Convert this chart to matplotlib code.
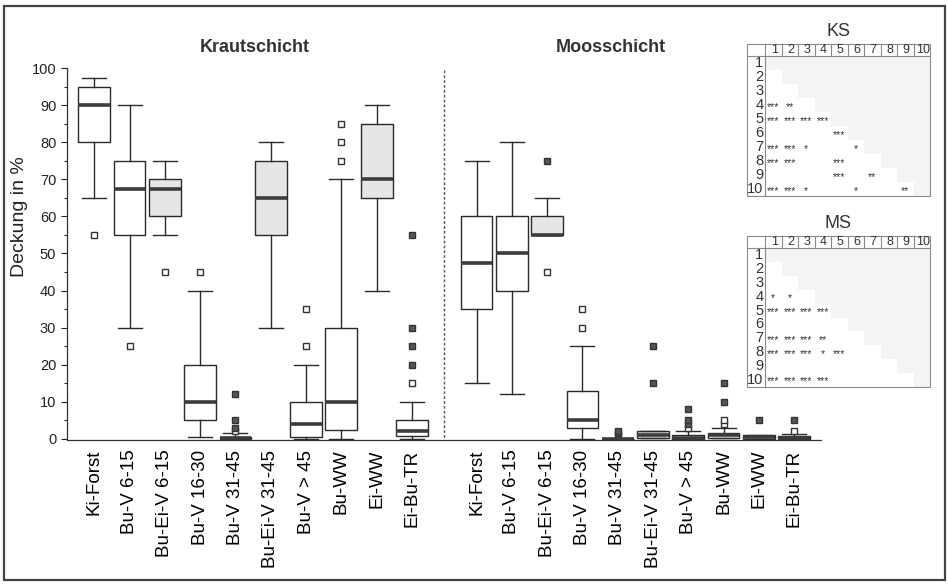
import matplotlib
matplotlib.use('Agg')
import matplotlib.pyplot as plt
from matplotlib.patches import Rectangle

plt.rcParams['font.family'] = ['Liberation Sans', 'DejaVu Sans']

groups = ['Ki-Forst', 'Bu-V 6-15', 'Bu-Ei-V 6-15', 'Bu-V 16-30', 'Bu-V 31-45',
          'Bu-Ei-V 31-45', 'Bu-V > 45', 'Bu-WW', 'Ei-WW', 'Ei-Bu-TR']
grey_box = [False, False, True, False, False, True, False, False, True, False]

# Krautschicht
ks_whislo = [65, 30, 55, 0.5, 0, 30, 0, 0, 40, 0]
ks_q1 = [80, 55, 60, 5, 0, 55, 0.5, 2.3, 65, 0.7]
ks_med = [90, 67.5, 67.5, 10, 0.1, 65, 4, 10, 70, 2]
ks_q3 = [95, 75, 70, 20, 0.5, 75, 10, 30, 85, 5]
ks_whishi = [97.5, 90, 75, 40, 1.5, 80, 20, 70, 90, 10]
ks_open = [[55], [25], [45], [45], [2], [], [25, 35], [75, 80, 85], [], [15]]
ks_filled = [[], [], [], [], [3, 5, 12], [], [], [], [], [20, 25, 30, 55]]

# Moosschicht
ms_whislo = [15, 12, 55, 0, 0, 0.3, 0, 0.3, 0, 0]
ms_q1 = [35, 40, 55, 3, 0, 0.3, 0, 0.3, 0, 0]
ms_med = [47.5, 50, 55, 5, 0, 1, 0.3, 1, 0.5, 0.3]
ms_q3 = [60, 60, 60, 13, 0, 2, 1, 1.5, 1, 0.8]
ms_whishi = [75, 80, 65, 25, 0, 2, 2, 2.8, 1, 1.2]
ms_open = [[], [], [45], [30, 35], [], [], [3], [4, 5], [], [2]]
ms_filled = [[], [], [75], [], [1, 1.5, 2], [15, 25], [4, 5, 8], [10, 15], [5], [5]]

ks_pos = [1, 2, 3, 4, 5, 6, 7, 8, 9, 10]
ms_pos = [11.83, 12.83, 13.83, 14.83, 15.83, 16.83, 17.83, 18.83, 19.83, 20.83]

# significance tables (row, col, stars)
ks_sig = [(4, 1, '***'), (4, 2, '**'),
          (5, 1, '***'), (5, 2, '***'), (5, 3, '***'), (5, 4, '***'),
          (6, 5, '***'),
          (7, 1, '***'), (7, 2, '***'), (7, 3, '*'), (7, 6, '*'),
          (8, 1, '***'), (8, 2, '***'), (8, 5, '***'),
          (9, 5, '***'), (9, 7, '**'),
          (10, 1, '***'), (10, 2, '***'), (10, 3, '*'), (10, 6, '*'), (10, 9, '**')]
ms_sig = [(4, 1, '*'), (4, 2, '*'),
          (5, 1, '***'), (5, 2, '***'), (5, 3, '***'), (5, 4, '***'),
          (7, 1, '***'), (7, 2, '***'), (7, 3, '***'), (7, 4, '**'),
          (8, 1, '***'), (8, 2, '***'), (8, 3, '***'), (8, 4, '*'), (8, 5, '***'),
          (10, 1, '***'), (10, 2, '***'), (10, 3, '***'), (10, 4, '***')]

W, H = 948, 586
fig = plt.figure(figsize=[9.48, 5.86], dpi=100)
ax = fig.add_axes([66.7 / W, 1 - 439.8 / H, 754.3 / W, 371.5 / H])


def stats(wl, q1, md, q3, wh):
    out = []
    for i in range(len(md)):
        out.append({'whislo': wl[i], 'q1': q1[i], 'med': md[i], 'q3': q3[i],
                    'whishi': wh[i], 'fliers': []})
    return out


def draw_layer(st, pos, opn, fil):
    bp = ax.bxp(st, positions=pos, widths=0.9, patch_artist=True, showfliers=False,
                capwidths=0.68,
                boxprops=dict(edgecolor='#2a2a2a', linewidth=1.0),
                medianprops=dict(color='#3c3c3c', linewidth=2.6),
                whiskerprops=dict(color='#2a2a2a', linewidth=1.0),
                capprops=dict(color='#2a2a2a', linewidth=1.0))
    for b, g in zip(bp['boxes'], grey_box):
        b.set_facecolor('#e6e6e6' if g else 'white')
    for p, o, f in zip(pos, opn, fil):
        if o:
            ax.plot([p] * len(o), o, 's', ms=4, mfc='white', mec='#333333', mew=1.0)
        if f:
            ax.plot([p] * len(f), f, 's', ms=4, mfc='#555555', mec='#333333', mew=1.0)


draw_layer(stats(ks_whislo, ks_q1, ks_med, ks_q3, ks_whishi), ks_pos, ks_open, ks_filled)
draw_layer(stats(ms_whislo, ms_q1, ms_med, ms_q3, ms_whishi), ms_pos, ms_open, ms_filled)

ax.plot([10.9, 10.9], [99.5, -0.3], color='#555555', lw=1.0, ls=(0, (2, 1.5)))

ax.set_xlim(0.218, 21.59)
ax.set_ylim(-0.3, 100)
ax.set_xticks(ks_pos + ms_pos)
ax.set_xticklabels(groups + groups, rotation=90, fontsize=13.5)
ax.tick_params(axis='x', length=0, pad=7)
ax.set_yticks(range(0, 101, 10))
ax.set_yticks(range(5, 100, 10), minor=True)
ax.tick_params(axis='y', which='major', labelsize=10.5, length=4, width=0.8, direction='out', colors='#222222')
ax.tick_params(axis='y', which='minor', length=2.5, width=0.8, direction='out', colors='#222222')
ax.spines['top'].set_visible(False)
ax.spines['right'].set_visible(False)
ax.spines['left'].set_bounds(0, 100)
for s in ['left', 'bottom']:
    ax.spines[s].set_color('#333333')
    ax.spines[s].set_linewidth(0.9)
ax.set_ylabel('Deckung in %', fontsize=14, color='#222222')
ax.yaxis.set_label_coords(-0.051, 0.60)

fig.text(255 / W, 1 - 48 / H, 'Krautschicht', fontsize=13, fontweight='bold',
         ha='center', va='center', color='#333333')
fig.text(611 / W, 1 - 48 / H, 'Moosschicht', fontsize=13, fontweight='bold',
         ha='center', va='center', color='#333333')


def draw_table(title, top, head_h, row_h, sig):
    left, right, lab_w = 746.7, 930.0, 18.3
    col_w = (right - left - lab_w) / 10
    bottom = top + head_h + 10 * row_h

    def fx(x):
        return x / W

    def fy(y):
        return 1 - y / H
    fig.text(fx((left + right) / 2), fy(top - 13), title, fontsize=13,
             ha='center', va='center', color='#333333')
    # light grey upper triangle
    for r in range(1, 11):
        for c in range(r, 11):
            x0 = left + lab_w + (c - 1) * col_w
            y0 = top + head_h + r * row_h
            fig.patches.append(Rectangle((fx(x0), fy(y0)), col_w / W, row_h / H,
                                         transform=fig.transFigure, facecolor='#f4f4f4',
                                         edgecolor='none'))
    lc = '#8a8a8a'
    fig.patches.append(Rectangle((fx(left), fy(bottom)), (right - left) / W, (bottom - top) / H,
                                 transform=fig.transFigure, facecolor='none', edgecolor=lc, lw=0.8))
    fig.add_artist(plt.Line2D([fx(left), fx(right)], [fy(top + head_h)] * 2,
                              transform=fig.transFigure, color=lc, lw=0.8))
    fig.add_artist(plt.Line2D([fx(left + lab_w)] * 2, [fy(top), fy(bottom)],
                              transform=fig.transFigure, color=lc, lw=0.8))
    for c in range(1, 10):
        x = left + lab_w + c * col_w
        fig.add_artist(plt.Line2D([fx(x)] * 2, [fy(top), fy(top + head_h)],
                                  transform=fig.transFigure, color=lc, lw=0.8))
    for c in range(1, 11):
        x = left + lab_w + (c - 0.45) * col_w
        fig.text(fx(x), fy(top + head_h / 2), str(c), fontsize=9, ha='center',
                 va='center', color='#333333')
    for r in range(1, 11):
        y = top + head_h + (r - 0.5) * row_h
        fig.text(fx(left + lab_w - 1.5), fy(y), str(r), fontsize=10.5, ha='right',
                 va='center', color='#333333')
    for r, c, s in sig:
        x = left + lab_w + (c - 0.5) * col_w
        y = top + head_h + (r - 0.5) * row_h
        fig.text(fx(x), fy(y) - 0.003, s, fontsize=7.5, ha='center', va='center',
                 color='#333333')


draw_table('KS', 44.3, 11.7, 14.0, ks_sig)
draw_table('MS', 236.0, 12.3, 13.84, ms_sig)

# outer frame
fig.patches.append(Rectangle((4 / W, 1 - 580 / H), 941 / W, 574 / H, transform=fig.transFigure,
                             facecolor='none', edgecolor='#444444', lw=1.6))

fig.savefig('out.png', dpi=100)
